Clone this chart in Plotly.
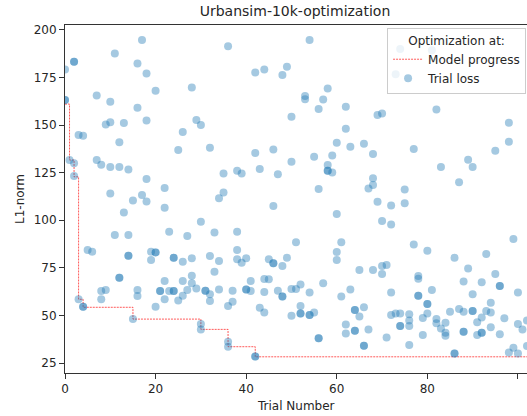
import plotly.graph_objects as go

# ---- data ----
trial_number = [
    # trials 0-24, upper half
    0, 2, 2, 0, 0, 1, 2, 2, 3, 4, 7, 11, 10, 9, 10, 13, 12, 7, 8, 10, 12, 14, 10, 15, 17, 18,
    16, 16, 17, 18, 20, 18, 18, 22, 22,
    # trials 0-24, lower half
    13, 11, 14, 5, 6, 14, 14, 12, 12, 8, 9, 8, 3, 4, 4, 16, 16, 15, 19, 20, 20, 19, 20, 22,
    21, 21, 22, 23, 24, 24, 24, 24, 23,
    # trials 25-61, upper half
    36, 54, 42, 44, 49, 48, 28, 53, 53, 58, 57, 56, 50, 29, 30, 26, 25, 32, 42, 46, 60, 55,
    59, 58, 58, 58, 59, 50, 43, 38, 39, 35, 47, 56, 35, 34, 46,
    # trials 25-61, lower half
    60, 30, 33, 38, 27, 51, 61, 60, 60, 38, 26, 28, 32, 34, 38, 39, 40, 45, 46, 46, 48, 49,
    33, 28, 26, 28, 41, 44, 45, 57, 25, 26, 27, 29, 31, 31, 32, 32, 34, 37, 37, 36, 40, 40,
    41, 44, 43, 44, 47, 48, 48, 50, 51, 52, 54, 50, 52, 52, 52, 54, 54, 55, 56, 56, 61, 30,
    30, 36, 36, 42, 42,
    # trials 62-102, upper half
    62, 69, 70, 82, 62, 98, 98, 63, 66, 68, 77, 95, 89, 90, 83, 68, 68, 67, 75, 87, 69, 72,
    75, 74, 81, 73,
    # trials 62-102, lower half
    70, 72, 99, 77, 80, 93, 86, 89, 65, 68, 70, 71, 70, 95, 78, 78, 88, 92, 96, 96, 63, 72,
    78, 78, 81, 90, 100, 80, 80, 94, 66, 64, 64, 65, 72, 73, 74, 76, 76, 80, 79, 85, 87, 88,
    90, 90, 93, 94, 92, 91, 97, 100, 101, 102, 82, 82, 84, 83, 84, 84, 88, 88, 91, 92, 92,
    94, 96, 74, 74, 76, 79, 76, 71, 67, 62, 62, 64, 64, 66, 66, 86, 86, 98, 99, 100, 102,
]
trial_loss = [
    179.2, 183.2, 183.2, 163.1, 163.1, 131.6, 129.9, 123.2, 144.7, 144.4, 165.5, 187.6, 162.2,
    150.2, 151.4, 151.0, 140.9, 131.6, 129.1, 128.0, 128.0, 126.7, 114.1, 110.3, 113.2, 109.9,
    159.1, 182.3, 194.6, 177.1, 168.0, 152.4, 121.6, 116.9, 106.6,
    104.1, 92.2, 92.2, 84.4, 83.5, 81.4, 81.4, 69.8, 69.8, 62.8, 63.4, 58.5, 58.5, 54.6, 54.6,
    63.4, 60.2, 48.1, 83.5, 83.1, 83.1, 79.1, 54.6, 68.1, 62.8, 62.8, 58.5, 62.8, 62.8, 62.8,
    80.3, 80.3, 94.0,
    191.4, 194.6, 177.6, 179.2, 180.6, 176.2, 169.7, 165.2, 163.5, 169.2, 163.4, 158.4, 154.3,
    152.6, 150.0, 146.3, 136.9, 138.1, 135.3, 137.2, 140.7, 133.3, 134.0, 129.0, 126.0, 126.0,
    125.0, 130.7, 126.9, 126.0, 124.6, 124.6, 124.2, 116.4, 114.5, 111.5, 107.5,
    103.3, 99.2, 93.6, 94.0, 91.7, 88.4, 88.4, 83.3, 79.1, 84.4, 78.2, 80.0, 81.2, 78.6, 79.5,
    77.7, 80.0, 79.5, 77.4, 77.4, 76.0, 80.3, 73.0, 70.9, 68.1, 66.9, 68.1, 69.1, 69.0, 66.9,
    57.8, 60.4, 63.4, 64.2, 63.0, 63.0, 61.1, 57.6, 63.7, 63.0, 57.2, 55.0, 63.7, 63.7, 62.8,
    62.3, 54.1, 51.5, 63.0, 59.9, 59.9, 63.9, 63.9, 66.3, 62.0, 49.9, 55.0, 51.1, 51.1, 50.2,
    50.2, 51.5, 38.0, 38.0, 59.9, 45.5, 42.7, 36.2, 33.6, 28.4, 28.4,
    159.6, 155.2, 156.1, 158.2, 148.0, 151.2, 141.2, 138.6, 140.2, 134.8, 137.4, 136.5, 131.8,
    127.9, 127.9, 122.0, 118.5, 116.6, 116.2, 120.0, 109.7, 107.8, 108.9, 189.9, 189.3, 176.6,
    99.6, 97.8, 90.1, 87.3, 84.0, 82.3, 80.3, 74.7, 73.9, 73.9, 76.0, 76.5, 71.8, 71.8, 70.7,
    69.3, 67.9, 67.4, 65.5, 65.5, 63.7, 62.1, 60.4, 60.4, 63.4, 61.1, 62.1, 56.0, 56.0, 56.7,
    54.3, 52.9, 52.9, 49.4, 50.2, 51.1, 51.1, 50.6, 47.3, 51.1, 48.7, 52.0, 53.4, 52.0, 52.3,
    52.3, 52.3, 51.5, 49.0, 46.4, 48.5, 45.5, 42.7, 47.3, 48.1, 45.9, 46.2, 43.2, 40.9, 39.4,
    41.5, 41.5, 39.7, 40.9, 40.9, 43.8, 40.1, 44.5, 44.5, 44.5, 39.7, 34.5, 38.5, 42.7, 45.2,
    40.6, 42.0, 42.0, 34.1, 34.1, 30.1, 30.1, 30.6, 33.1, 30.1, 34.0,
]

# best-so-far ("model progress") step line
progress_trial = [0, 1, 2, 3, 4, 15, 30, 36, 42, 103]
progress_loss = [161.0, 131.6, 122.8, 58.5, 54.3, 48.1, 42.7, 33.6, 28.3, 28.3]

x_ticks = [0, 20, 40, 60, 80, 100]
y_ticks = [25, 50, 75, 100, 125, 150, 175, 200]

FONT = "DejaVu Sans"

fig = go.Figure()
fig.add_trace(go.Scatter(
    x=progress_trial, y=progress_loss, mode="lines", name="Model progress",
    line=dict(shape="hv", color="rgba(255,0,0,0.65)", width=1, dash="2px,1px"),
))
fig.add_trace(go.Scatter(
    x=trial_number, y=trial_loss, mode="markers", name="Trial loss",
    marker=dict(size=8, color="rgba(31,119,180,0.4)", line=dict(width=0)),
))

axis_common = dict(
    showgrid=False, zeroline=False, showline=True, linecolor="#333333", linewidth=1,
    ticks="outside", ticklen=5, tickwidth=1, tickcolor="#333333", automargin=False,
    tickfont=dict(family=FONT, size=12, color="#262626"),
)
fig.update_xaxes(range=[0, 102], tickvals=x_ticks, mirror=True, **axis_common)
fig.update_yaxes(range=[19.8, 202.5], tickvals=y_ticks, mirror=False, **axis_common)

fig.update_layout(
    width=527, height=416,
    margin=dict(l=65, r=0, t=25, b=43, autoexpand=False),
    paper_bgcolor="white", plot_bgcolor="white",
    font=dict(family=FONT, size=12, color="#262626"),
    title=dict(text="Urbansim-10k-optimization", x=(65 + 525) / 2 / 527, xanchor="center",
               y=1 - 11 / 416, yanchor="middle", yref="container",
               font=dict(family=FONT, size=14, color="#262626")),
    showlegend=True,
    legend=dict(
        x=0.998, y=0.991, xanchor="right", yanchor="top",
        bgcolor="rgba(255,255,255,0.8)", bordercolor="#cccccc", borderwidth=1,
        title=dict(text="Optimization at:", side="top center",
                   font=dict(family=FONT, size=12, color="#262626")),
        font=dict(family=FONT, size=12, color="#262626"),
        itemwidth=30, tracegroupgap=0,
    ),
    annotations=[
        dict(text="Trial Number", xref="paper", yref="paper", x=0.5, y=0, yshift=-33,
             xanchor="center", yanchor="middle", showarrow=False,
             font=dict(family=FONT, size=12, color="#262626")),
        dict(text="L1-norm", xref="paper", yref="paper", x=0, y=0.5, xshift=-45,
             xanchor="center", yanchor="middle", textangle=-90, showarrow=False,
             font=dict(family=FONT, size=12, color="#262626")),
    ],
)

fig.write_html(
    "out.html",
    config={"displayModeBar": False},
    post_script="document.body.style.margin='0';document.body.style.padding='0';"
                "document.documentElement.style.overflow='hidden';",
)
